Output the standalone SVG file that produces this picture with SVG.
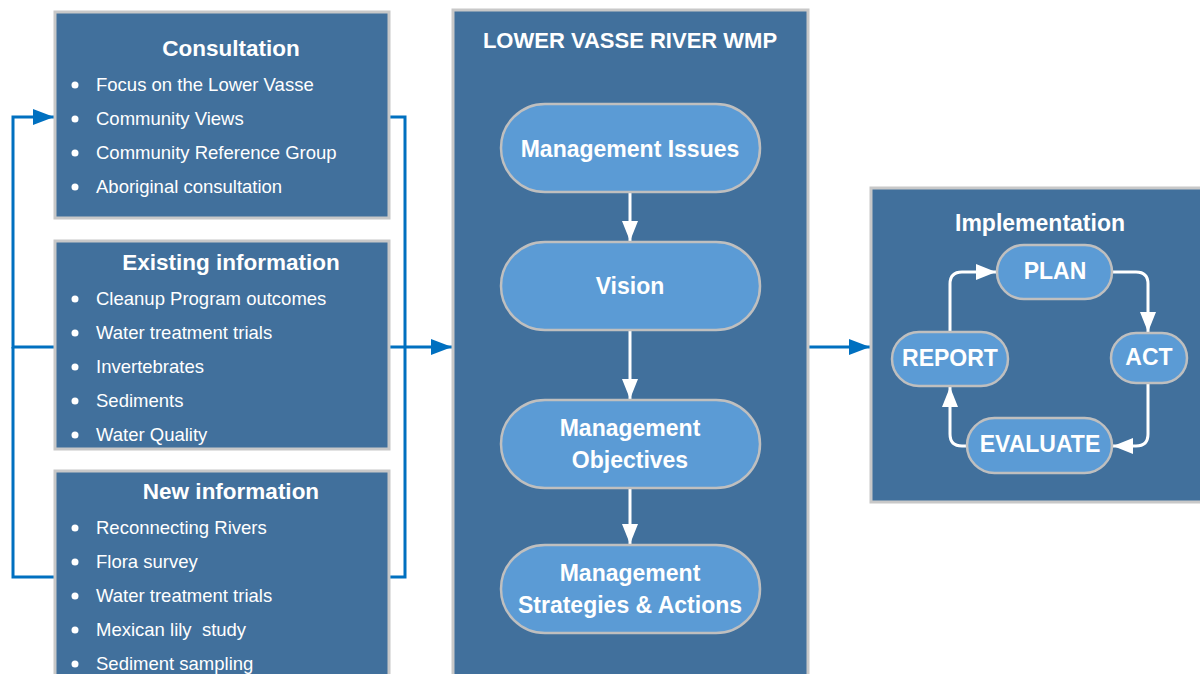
<svg xmlns="http://www.w3.org/2000/svg" width="1200" height="674" viewBox="0 0 1200 674">
<style>
.box{fill:#41709C;stroke:#C8C8C8;stroke-width:3}
.pill{fill:#5B9BD5;stroke:#BFBFBF;stroke-width:2.5}
.t{font-family:"Liberation Sans",Arial,sans-serif;fill:#FFFFFF}
.h{font-size:22.5px;font-weight:bold;text-anchor:middle}
.b{font-size:18.5px}
.p{font-size:23px;font-weight:bold;text-anchor:middle}
.con{fill:none;stroke:#0070C0;stroke-width:3}
.wc{fill:none;stroke:#FFFFFF;stroke-width:3}
</style>
<defs>
<marker id="ab" viewBox="0 0 21 16" refX="21" refY="8" markerWidth="21" markerHeight="16" markerUnits="userSpaceOnUse" orient="auto"><path d="M0,0L21,8L0,16z" fill="#0070C0"/></marker>
<marker id="aw" viewBox="0 0 20 16" refX="20" refY="8" markerWidth="20" markerHeight="16" markerUnits="userSpaceOnUse" orient="auto"><path d="M0,0L20,8L0,16z" fill="#FFFFFF"/></marker>
</defs>
<rect width="1200" height="674" fill="#FFFFFF"/>
<g id="connectors">
<path class="con" d="M55,347 H13 V117 H54" marker-end="url(#ab)"/>
<path class="con" d="M55,577 H13 V347"/>
<path class="con" d="M389,117 H405 V577 H389"/>
<path class="con" d="M389,347 H452" marker-end="url(#ab)"/>
<path class="con" d="M808,347 H870" marker-end="url(#ab)"/>
</g>
<g id="consultation">
<rect class="box" x="55" y="12" width="334" height="206"/>
<text class="t h" x="231" y="56">Consultation</text>
<g class="t b">
<circle cx="75" cy="85" r="3.5" fill="#fff"/><text x="96" y="91">Focus on the Lower Vasse</text>
<circle cx="75" cy="119" r="3.5" fill="#fff"/><text x="96" y="125">Community Views</text>
<circle cx="75" cy="153" r="3.5" fill="#fff"/><text x="96" y="159">Community Reference Group</text>
<circle cx="75" cy="187" r="3.5" fill="#fff"/><text x="96" y="193">Aboriginal consultation</text>
</g>
</g>
<g id="existing">
<rect class="box" x="55" y="241" width="334" height="208"/>
<text class="t h" x="231" y="270">Existing information</text>
<g class="t b">
<circle cx="75" cy="299" r="3.5" fill="#fff"/><text x="96" y="305">Cleanup Program outcomes</text>
<circle cx="75" cy="333" r="3.5" fill="#fff"/><text x="96" y="339">Water treatment trials</text>
<circle cx="75" cy="367" r="3.5" fill="#fff"/><text x="96" y="373">Invertebrates</text>
<circle cx="75" cy="401" r="3.5" fill="#fff"/><text x="96" y="407">Sediments</text>
<circle cx="75" cy="435" r="3.5" fill="#fff"/><text x="96" y="441">Water Quality</text>
</g>
</g>
<g id="newinfo">
<rect class="box" x="55" y="471" width="334" height="220"/>
<text class="t h" x="231" y="499">New information</text>
<g class="t b">
<circle cx="75" cy="528" r="3.5" fill="#fff"/><text x="96" y="534">Reconnecting Rivers</text>
<circle cx="75" cy="562" r="3.5" fill="#fff"/><text x="96" y="568">Flora survey</text>
<circle cx="75" cy="596" r="3.5" fill="#fff"/><text x="96" y="602">Water treatment trials</text>
<circle cx="75" cy="630" r="3.5" fill="#fff"/><text x="96" y="636" xml:space="preserve">Mexican lily  study</text>
<circle cx="75" cy="664" r="3.5" fill="#fff"/><text x="96" y="670">Sediment sampling</text>
</g>
</g>
<g id="wmp">
<rect class="box" x="453" y="10" width="355" height="690"/>
<text class="t" x="630" y="48" font-size="22" font-weight="bold" text-anchor="middle">LOWER VASSE RIVER WMP</text>
</g>
<g id="wmp-arrows">
<path class="wc" d="M630,192 V241" marker-end="url(#aw)"/>
<path class="wc" d="M630,330 V399" marker-end="url(#aw)"/>
<path class="wc" d="M630,488 V544" marker-end="url(#aw)"/>
</g>
<g id="issues">
<rect class="pill" x="501" y="104" width="259" height="88" rx="44"/>
<text class="t p" x="630" y="157">Management Issues</text>
</g>
<g id="vision">
<rect class="pill" x="501" y="242" width="259" height="88" rx="44"/>
<text class="t p" x="630" y="294">Vision</text>
</g>
<g id="objectives">
<rect class="pill" x="501" y="400" width="259" height="88" rx="44"/>
<text class="t p" x="630" y="436">Management</text>
<text class="t p" x="630" y="468">Objectives</text>
</g>
<g id="strategies">
<rect class="pill" x="501" y="545" width="259" height="88" rx="44"/>
<text class="t p" x="630" y="581">Management</text>
<text class="t p" x="630" y="613">Strategies &amp; Actions</text>
</g>
<g id="implementation">
<rect class="box" x="871" y="188" width="340" height="314"/>
<text class="t p" x="1040" y="231" font-size="24">Implementation</text>
</g>
<g id="cycle-arrows">
<path class="wc" d="M1112,272 H1136 Q1148,272 1148,284 V332" marker-end="url(#aw)"/>
<path class="wc" d="M1148,382 V434 Q1148,446 1136,446 H1113" marker-end="url(#aw)"/>
<path class="wc" d="M967,446 H962 Q950,446 950,434 V387" marker-end="url(#aw)"/>
<path class="wc" d="M950,332 V284 Q950,272 962,272 H996" marker-end="url(#aw)"/>
</g>
<g id="plan">
<rect class="pill" x="997" y="245" width="115" height="54" rx="27"/>
<text class="t p" x="1055" y="279" font-size="20">PLAN</text>
</g>
<g id="act">
<rect class="pill" x="1111" y="333" width="76" height="50" rx="25"/>
<text class="t p" x="1149" y="365" font-size="20">ACT</text>
</g>
<g id="report">
<rect class="pill" x="892" y="332" width="116" height="54" rx="27"/>
<text class="t p" x="950" y="366" font-size="20">REPORT</text>
</g>
<g id="evaluate">
<rect class="pill" x="967" y="418" width="145" height="55" rx="27.5"/>
<text class="t p" x="1040" y="452" font-size="20">EVALUATE</text>
</g>
</svg>
